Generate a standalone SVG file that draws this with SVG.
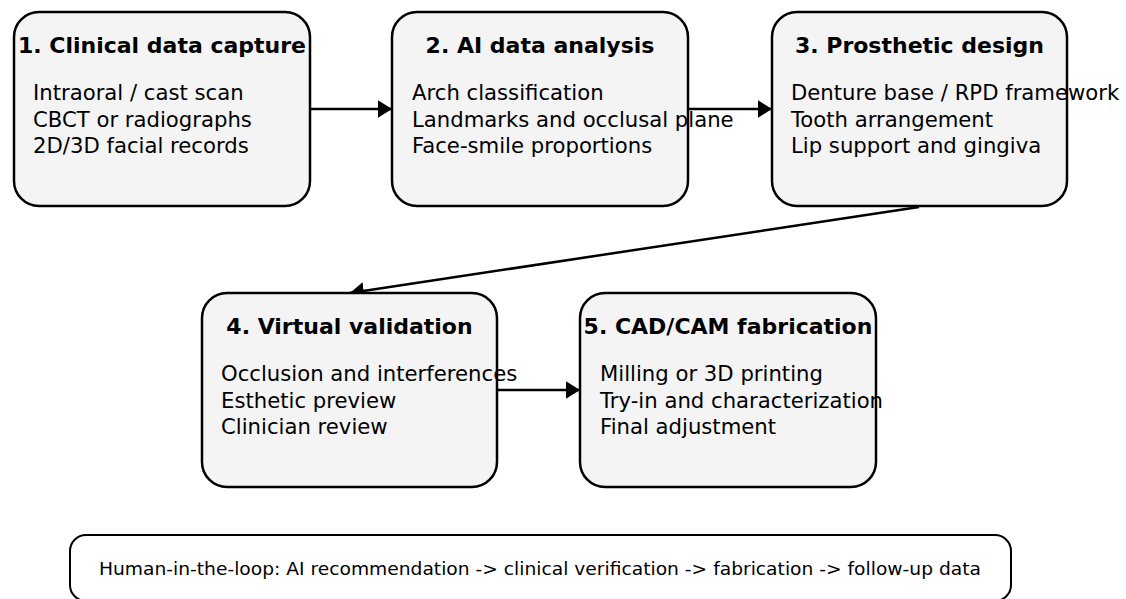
<svg xmlns="http://www.w3.org/2000/svg" width="1126" height="599" viewBox="0 0 1126 599">
<defs>
<style>
.box{fill:#f4f4f4;stroke:#000;stroke-width:2.5}
.title{font-family:"DejaVu Sans",sans-serif;font-weight:bold;font-size:22px;text-anchor:middle;fill:#000}
.body{font-family:"DejaVu Sans",sans-serif;font-size:21.2px;fill:#000}
.note{font-family:"DejaVu Sans",sans-serif;font-size:18px;text-anchor:middle;fill:#000}
.conn{stroke:#000;stroke-width:2.5;fill:none}
</style>
<marker id="ah" viewBox="0 0 10 10" refX="10" refY="5" markerWidth="5.6" markerHeight="7" markerUnits="strokeWidth" orient="auto" preserveAspectRatio="none">
<path d="M0,0 L10,5 L0,10 z" fill="#000"/>
</marker>
</defs>
<rect width="1126" height="599" fill="#fff"/>
<g id="connectors">
<line class="conn" x1="310" y1="109" x2="392" y2="109" marker-end="url(#ah)"/>
<line class="conn" x1="688" y1="109" x2="772" y2="109" marker-end="url(#ah)"/>
<line class="conn" x1="919" y1="207" x2="350" y2="293" marker-end="url(#ah)"/>
<line class="conn" x1="497" y1="390" x2="580" y2="390" marker-end="url(#ah)"/>
</g>
<g id="node1">
<rect class="box" x="14" y="12" width="296" height="194" rx="25"/>
<text class="title" x="162" y="53">1. Clinical data capture</text>
<text class="body" x="33" y="100">Intraoral / cast scan</text>
<text class="body" x="33" y="126.5">CBCT or radiographs</text>
<text class="body" x="33" y="153">2D/3D facial records</text>
</g>
<g id="node2">
<rect class="box" x="392" y="12" width="296" height="194" rx="25"/>
<text class="title" x="540" y="53">2. AI data analysis</text>
<text class="body" x="412" y="100">Arch classification</text>
<text class="body" x="412" y="126.5">Landmarks and occlusal plane</text>
<text class="body" x="412" y="153">Face-smile proportions</text>
</g>
<g id="node3">
<rect class="box" x="772" y="12" width="295" height="194" rx="25"/>
<text class="title" x="919.5" y="53">3. Prosthetic design</text>
<text class="body" x="791" y="100">Denture base / RPD framework</text>
<text class="body" x="791" y="126.5">Tooth arrangement</text>
<text class="body" x="791" y="153">Lip support and gingiva</text>
</g>
<g id="node4">
<rect class="box" x="202" y="293" width="295" height="194" rx="25"/>
<text class="title" x="349.5" y="334">4. Virtual validation</text>
<text class="body" x="221" y="381">Occlusion and interferences</text>
<text class="body" x="221" y="407.5">Esthetic preview</text>
<text class="body" x="221" y="434">Clinician review</text>
</g>
<g id="node5">
<rect class="box" x="580" y="293" width="296" height="194" rx="25"/>
<text class="title" x="728" y="334">5. CAD/CAM fabrication</text>
<text class="body" x="600" y="381">Milling or 3D printing</text>
<text class="body" x="600" y="407.5">Try-in and characterization</text>
<text class="body" x="600" y="434">Final adjustment</text>
</g>
<g id="note">
<rect x="70" y="535" width="941" height="66" rx="16" fill="#fff" stroke="#000" stroke-width="2"/>
<text class="note" x="540" y="575" textLength="882" lengthAdjust="spacingAndGlyphs">Human-in-the-loop: AI recommendation -&gt; clinical verification -&gt; fabrication -&gt; follow-up data</text>
</g>
</svg>
